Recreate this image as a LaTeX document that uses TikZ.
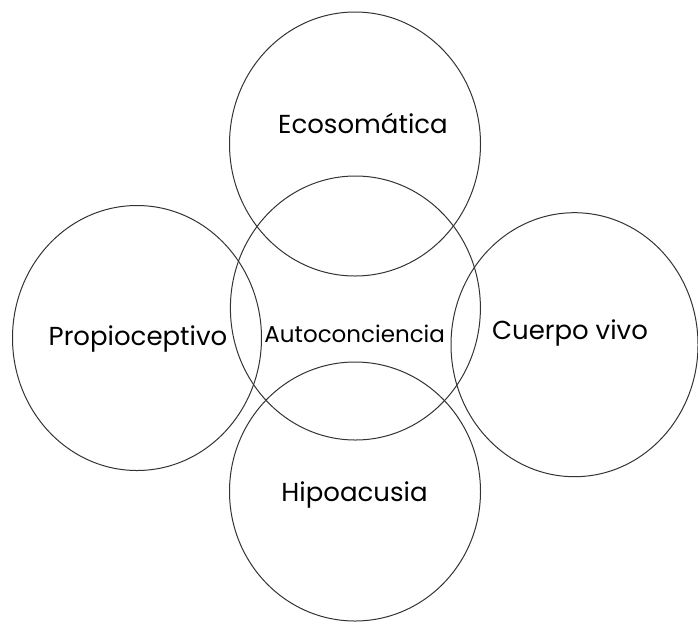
\documentclass[tikz,border=0pt]{standalone}
\usepackage{fontspec}
\setmainfont{Poppins}
\begin{document}
\begin{tikzpicture}[x=1pt,y=-1pt,
  ring/.style={draw=black!80,line width=1pt},
  lbl/.style={font=\fontsize{26}{30}\selectfont,text=black,inner sep=0pt,anchor=base},
  small/.style={font=\fontsize{23}{27}\selectfont}]
\useasboundingbox (0,0) rectangle (698,622);
\draw[ring] (355,144) ellipse [x radius=125.5,y radius=132];
\draw[ring] (355.4,308) ellipse [x radius=125,y radius=132];
\draw[ring] (137,338) ellipse [x radius=124.5,y radius=132.5];
\draw[ring] (574.5,344.7) ellipse [x radius=123.5,y radius=132];
\draw[ring] (355,491.5) ellipse [x radius=125.5,y radius=129.5];
\node[lbl] (eco) at (363,133.3) {Ecosomática};
\node[lbl] (pro) at (138,345) {Propioceptivo};
\node[lbl,small] (auto) at (354.7,342.5) {Autoconciencia};
\node[lbl] (cue) at (570,339) {Cuerpo vivo};
\node[lbl] (hip) at (354.5,501) {Hipoacusia};
\end{tikzpicture}
\end{document}
